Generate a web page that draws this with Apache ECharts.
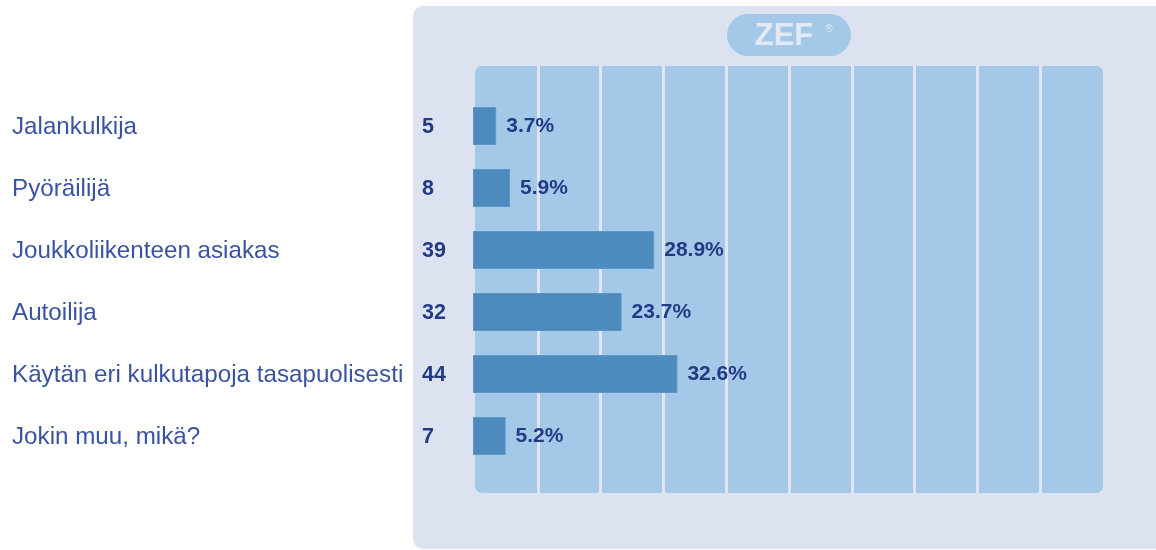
<!DOCTYPE html>
<html>
<head>
<meta charset="utf-8">
<script src="https://cdn.jsdelivr.net/npm/echarts@6/dist/echarts.min.js"></script>
<style>
    html, body { margin: 0; padding: 0; background: #ffffff; }
    #chart { width: 1156px; height: 550px; }
</style>
</head>
<body>
<div id="chart"></div>
<script>
    // answers, counts and shares
    var categories = ['Jalankulkija', 'Pyöräilijä', 'Joukkoliikenteen asiakas', 'Autoilija',
        'Käytän eri kulkutapoja tasapuolisesti', 'Jokin muu, mikä?'];
    var counts = [5, 8, 39, 32, 44, 7];
    var percents = [3.7, 5.9, 28.9, 23.7, 32.6, 5.2];

    var chart = echarts.init(document.getElementById('chart'));

    var option = {
        animation: false,
        graphic: {
            elements: [
                {
                    type: 'rect', z: -10, silent: true,
                    shape: { x: 413, y: 6, width: 760, height: 543, r: 10 },
                    style: { fill: '#dde2f0' }
                },
                {
                    type: 'rect', z: -9, silent: true,
                    shape: { x: 475, y: 66, width: 628, height: 427, r: 7 },
                    style: { fill: '#a3c8e8' }
                },
                {
                    type: 'rect', z: -9, silent: true,
                    shape: { x: 727, y: 14, width: 124, height: 42, r: 21 },
                    style: { fill: '#a3c8e8' }
                },
                {
                    type: 'text', z: -8, silent: true,
                    x: 784, y: 36,
                    style: {
                        text: 'ZEF', fill: '#e3eaf6', align: 'center', verticalAlign: 'middle',
                        font: 'bold 31px "Liberation Sans"'
                    }
                },
                {
                    type: 'text', z: -8, silent: true,
                    x: 829, y: 29,
                    style: {
                        text: '®', fill: '#e3eaf6', align: 'center', verticalAlign: 'middle',
                        font: '10px "Liberation Sans"'
                    }
                }
            ]
        },
        grid: [
            { left: 473, width: 627, top: 95, height: 372 },
            { left: 475, width: 628, top: 66, height: 427 }
        ],
        xAxis: [
            {
                gridIndex: 0, type: 'value', min: 0, max: 100,
                axisLine: { show: false }, axisTick: { show: false },
                axisLabel: { show: false }, splitLine: { show: false }
            },
            {
                gridIndex: 1, type: 'value', min: 0, max: 100, interval: 10,
                axisLine: { show: false }, axisTick: { show: false },
                axisLabel: { show: false },
                splitLine: {
                    show: true, showMinLine: false, showMaxLine: false,
                    lineStyle: { color: '#dfe5f2', width: 3 }
                }
            }
        ],
        yAxis: [
            {
                gridIndex: 0, type: 'category', inverse: true, data: categories,
                axisLine: { show: false }, axisTick: { show: false },
                axisLabel: {
                    margin: 0,
                    formatter: function (value, idx) {
                        return '{name|' + value + '}{cnt|' + counts[idx] + '}';
                    },
                    rich: {
                        name: {
                            width: 410, align: 'left', color: '#3a53a1',
                            fontFamily: 'Liberation Sans', fontSize: 24.2,
                            padding: [2, 0, 0, 0]
                        },
                        cnt: {
                            width: 51, align: 'left', color: '#233a84',
                            fontFamily: 'Liberation Sans', fontSize: 21.5, fontWeight: 'bold',
                            padding: [2, 0, 0, 0]
                        }
                    }
                }
            },
            {
                gridIndex: 1, type: 'category', data: [''],
                axisLine: { show: false }, axisTick: { show: false },
                axisLabel: { show: false }
            }
        ],
        series: [
            {
                type: 'bar',
                xAxisIndex: 0, yAxisIndex: 0,
                data: percents,
                barWidth: 38,
                itemStyle: { color: '#4d8bbf', borderColor: '#5a97c9', borderWidth: 1 },
                label: {
                    show: true, position: 'right', distance: 10,
                    formatter: '{c}%',
                    color: '#233a84', fontFamily: 'Liberation Sans',
                    fontWeight: 'bold', fontSize: 21
                }
            }
        ]
    };
    chart.setOption(option);
</script>
</body>
</html>
